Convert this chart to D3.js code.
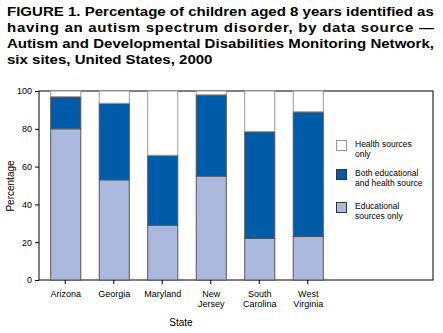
<!DOCTYPE html>
<html><head><meta charset="utf-8">
<script src="https://cdn.jsdelivr.net/npm/d3@7"></script>
<style>html,body{margin:0;padding:0;background:#fff;}svg{display:block;font-family:"Liberation Sans",Arial,sans-serif;}</style>
</head><body>
<svg id="c" width="443" height="333"></svg>
<script>
const states = [["Arizona"],["Georgia"],["Maryland"],["New","Jersey"],["South","Carolina"],["West","Virginia"]];
const educational = [80, 53, 29, 55, 22, 23];
const both = [17, 40.5, 37, 43, 56.5, 66];
const health = [3, 6.5, 34, 2, 21.5, 11];
const yTicks = [0, 20, 40, 60, 80, 100];
const titleLines = [
  "FIGURE 1. Percentage of children aged 8 years identified as",
  "having an autism spectrum disorder, by data source \u2014",
  "Autism and Developmental Disabilities Monitoring Network,",
  "six sites, United States, 2000"
];
const seriesNames = ["Educational sources only","Both educational and health source","Health sources only"];
const colors = ["#aab9dd","#005ca9","#ffffff"];
const legendLines = [["Health sources","only"],["Both educational","and health source"],["Educational","sources only"]];

const svg = d3.select("#c");
// Title
const tl = svg.append("g");
const tEls = titleLines.map((t,i)=>tl.append("text").attr("x",0).attr("y",16+i*16)
    .attr("font-size",13).attr("font-weight","bold").attr("fill","#000").text(t));
const nat = tEls[0].node().getComputedTextLength();
const f = 427/nat;
tl.attr("transform",`translate(7,0) scale(${f},1)`);
[1,2].forEach(i=>tEls[i].attr("textLength",427/f).attr("lengthAdjust","spacing"));

const L=39, R=433, T=91, B=280;
const keys = states.map(s=>s.join(" "));
const x = d3.scaleBand().domain(keys).range([41,332]).paddingInner(0.38).paddingOuter(0.19);
const y = d3.scaleLinear().domain([0,100]).range([B,T]);

// frame
svg.append("rect").attr("x",L).attr("y",T).attr("width",R-L).attr("height",B-T)
  .attr("fill","none").attr("stroke","#000").attr("stroke-width",1);

const rows = keys.map((k,i)=>({key:k, e:educational[i], b:both[i], h:health[i]}));
const stack = d3.stack().keys(["e","b","h"])(rows);
stack.forEach((layer,li)=>{
  svg.append("g").selectAll("rect").data(layer).join("rect")
    .attr("x",d=>x(d.data.key)+0.5)
    .attr("y",d=>y(d[1]))
    .attr("width",x.bandwidth())
    .attr("height",d=>y(d[0])-y(d[1]))
    .attr("fill",colors[li])
    .attr("stroke",li===2?"#999":"#555").attr("stroke-width",1);
});

// y axis
const ya = svg.append("g").attr("transform",`translate(${L},0)`)
  .call(d3.axisLeft(y).tickValues(yTicks).tickSize(4).tickPadding(3));
ya.select(".domain").remove();
ya.selectAll("text").attr("font-size",9).attr("font-family","Liberation Sans, Arial").attr("fill","#000");
ya.selectAll("line").attr("stroke","#000");

// x axis
const xa = svg.append("g").attr("transform",`translate(0,${B})`)
  .call(d3.axisBottom(x).tickSize(4).tickFormat(""));
xa.select(".domain").remove();
xa.selectAll("line").attr("stroke","#000");
states.forEach((s,i)=>{
  const t = svg.append("text").attr("text-anchor","middle").attr("font-size",9).attr("fill","#000");
  s.forEach((ln,j)=>t.append("tspan").attr("x",x(keys[i])+x.bandwidth()/2+0.5).attr("y",297+j*10).text(ln));
});

// axis titles
svg.append("text").attr("x",181).attr("y",326).attr("text-anchor","middle").attr("font-size",10).text("State");
svg.append("text").attr("transform","translate(14,186) rotate(-90)").attr("text-anchor","middle").attr("font-size",10).text("Percentage");

// legend
const legY = [140,169,202];
const legIdx = [2,1,0];
legIdx.forEach((si,k)=>{
  svg.append("rect").attr("x",336.5).attr("y",legY[k]+0.5).attr("width",10).attr("height",10)
    .attr("fill",colors[si]).attr("stroke",si===2?"#999":"#333");
  const t = svg.append("text").attr("font-size",8.5).attr("fill","#000");
  legendLines[k].forEach((ln,j)=>t.append("tspan").attr("x",355).attr("y",legY[k]+7+j*10).text(ln));
});
</script>
</body></html>
